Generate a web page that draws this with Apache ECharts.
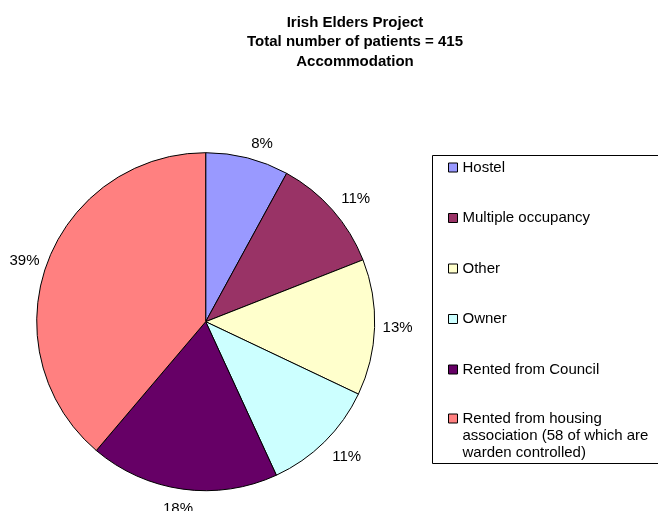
<!DOCTYPE html>
<html>
<head>
<meta charset="utf-8">
<script src="https://cdn.jsdelivr.net/npm/echarts@6/dist/echarts.min.js"></script>
<style>
html,body{margin:0;padding:0;background:#fff;}
#chart{width:658px;height:511px;}
</style>
</head>
<body>
<div id="chart"></div>
<script>
// accommodation categories and patient counts (total 415)
var categories = ['Hostel', 'Multiple occupancy', 'Other', 'Owner', 'Rented from Council',
    'Rented from housing association (58 of which are warden controlled)'];
var counts = [33, 46, 54, 46, 75, 161];
var colors = ['#9999FF', '#993366', '#FFFFCC', '#CCFFFF', '#660066', '#FF8080'];
// per slice label offsets (label line is hidden, only moves the % text)
var labelLen = [15, 17, 8, 21, 20, 8];
var labelLen2 = [0, -4, 0, -7, -13, 0];

var font = 'Liberation Sans, Arial, sans-serif';

function initChart(divId) {
    var myChart = echarts.init(document.getElementById(divId));
    var data = [];
    for (var i = 0; i < categories.length; i++) {
        data.push({
            name: categories[i],
            value: counts[i],
            itemStyle: {color: colors[i]},
            labelLine: {show: false, length: labelLen[i], length2: labelLen2[i]}
        });
    }
    var lastName = categories[categories.length - 1];
    var option = {
        backgroundColor: '#fff',
        animation: false,
        title: {
            text: 'Irish Elders Project\nTotal number of patients = 415\nAccommodation',
            left: 355,
            top: 0,
            textAlign: 'center',
            padding: [13, 0, 0, 0],
            textStyle: {
                fontFamily: font,
                fontSize: 15,
                fontWeight: 'bold',
                lineHeight: 19.5,
                color: '#000'
            }
        },
        graphic: [{
            type: 'rect',
            shape: {x: 432.5, y: 155.5, width: 300, height: 308},
            style: {fill: '#fff', stroke: '#000', lineWidth: 1},
            z: -1
        }],
        legend: [{
            orient: 'vertical',
            left: 448,
            top: 159,
            padding: 0,
            itemGap: 33.5,
            itemWidth: 9,
            itemHeight: 9,
            icon: 'rect',
            itemStyle: {borderColor: '#000', borderWidth: 1},
            data: categories.slice(0, 5),
            textStyle: {fontFamily: font, fontSize: 15, lineHeight: 17, color: '#000'}
        }, {
            orient: 'vertical',
            left: 448,
            top: 376,
            padding: 0,
            itemWidth: 9,
            itemHeight: 9,
            icon: 'rect',
            itemStyle: {borderColor: '#000', borderWidth: 1},
            data: [lastName],
            formatter: function () {
                return '\n\nRented from housing\nassociation (58 of which are\nwarden controlled)';
            },
            textStyle: {fontFamily: font, fontSize: 15, lineHeight: 17, color: '#000'}
        }],
        series: [{
            type: 'pie',
            center: [205.7, 321.7],
            radius: 169,
            startAngle: 90,
            clockwise: true,
            avoidLabelOverlap: false,
            itemStyle: {borderColor: '#000', borderWidth: 1},
            label: {
                position: 'outside',
                fontFamily: font,
                fontSize: 15,
                color: '#000',
                distanceToLabelLine: 0,
                formatter: function (p) {
                    return Math.round(p.percent) + '%';
                }
            },
            labelLine: {show: false, length: 12, length2: 0},
            emphasis: {scale: false},
            data: data
        }]
    };
    myChart.setOption(option, true);
    return myChart;
}
initChart('chart');
</script>
</body>
</html>
